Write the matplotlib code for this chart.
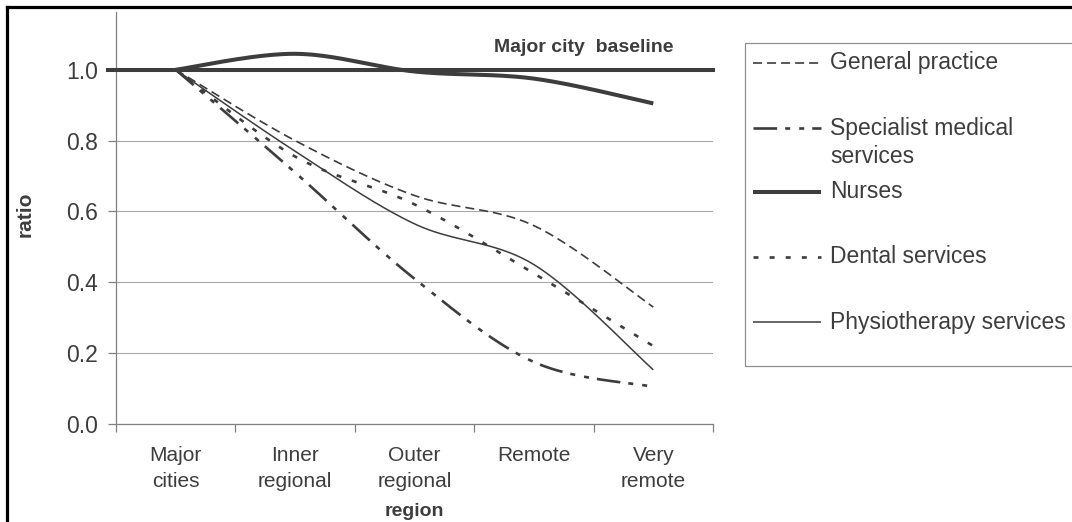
import numpy as np
import matplotlib
matplotlib.use("Agg")
import matplotlib.pyplot as plt
from matplotlib.lines import Line2D
from matplotlib.patches import Rectangle

plt.rcParams.update({"font.family": ["Liberation Sans", "DejaVu Sans"],
                     "lines.scale_dashes": False})

# ---- data ----
regions = ["Major\ncities", "Inner\nregional", "Outer\nregional", "Remote", "Very\nremote"]
general_practice = [1.0, 0.80, 0.645, 0.56, 0.33]
specialist = [1.0, 0.71, 0.41, 0.175, 0.105]
nurses = [1.0, 1.045, 0.995, 0.975, 0.905]
dental = [1.0, 0.755, 0.62, 0.425, 0.22]
physio = [1.0, 0.77, 0.565, 0.45, 0.153]
baseline = 1.0

INK = "#3d3d3d"
W, H = 1072, 522


def fx(px):
    return px / W


def fy(py):
    return 1 - py / H


def smooth(y, n=40):
    # Excel-style smoothed line: cubic Bezier through every point
    p = np.column_stack([np.arange(len(y), dtype=float), np.asarray(y, float)])
    ext = np.vstack([p[0], p, p[-1]])
    t = np.linspace(0, 1, n)[:, None]
    segs = []
    for i in range(len(p) - 1):
        p0, p3 = p[i], p[i + 1]
        c1 = p0 + (ext[i + 2] - ext[i]) / 6
        c2 = p3 - (ext[i + 3] - ext[i + 1]) / 6
        segs.append((1 - t) ** 3 * p0 + 3 * (1 - t) ** 2 * t * c1 + 3 * (1 - t) * t ** 2 * c2 + t ** 3 * p3)
    s = np.vstack(segs)
    return s[:, 0], s[:, 1]


STYLES = [
    ("General practice", general_practice, dict(lw=1.2, dashes=(6.5, 3.6))),
    ("Specialist medical\nservices", specialist, dict(lw=1.9, dashes=(17, 5.8, 3.6, 6.5, 3.6, 5.8))),
    ("Nurses", nurses, dict(lw=2.9)),
    ("Dental services", dental, dict(lw=1.9, dashes=(3.6, 8))),
    ("Physiotherapy services", physio, dict(lw=1.1)),
]

fig = plt.figure(figsize=(W / 100, H / 100), dpi=100)
ax = fig.add_axes([fx(116), fy(424), fx(713) - fx(116), fy(12) - fy(424)])

for name, vals, kw in STYLES:
    xs, ys = smooth(vals)
    ax.plot(xs, ys, color=INK, solid_capstyle="butt", dash_capstyle="butt", zorder=3, **kw)

ax.axhline(baseline, xmin=-8 / 597, xmax=1, color=INK, lw=2.9, clip_on=False, zorder=4)

ax.set_xlim(-0.5, len(regions) - 0.5)
ax.set_ylim(0, 1.163)
ax.set_yticks(np.arange(0, 1.01, 0.2))
ax.set_yticklabels([f"{v:.1f}" for v in np.arange(0, 1.01, 0.2)], fontsize=16.5, color=INK)
ax.yaxis.grid(True, color="#a8a8a8", lw=0.8)
ax.set_axisbelow(True)

ax.set_xticks(np.arange(len(regions) + 1) - 0.5)
ax.set_xticklabels([])
ax.set_xticks(np.arange(len(regions)), minor=True)
ax.set_xticklabels(regions, minor=True, fontsize=15, color=INK, linespacing=1.45)
ax.tick_params(axis="x", which="minor", length=0, pad=16)
ax.tick_params(axis="both", which="major", length=6, width=0.9, color="#808080", direction="out")
ax.tick_params(axis="y", pad=7)

for s in ("top", "right"):
    ax.spines[s].set_visible(False)
for s in ("left", "bottom"):
    ax.spines[s].set_color("#808080")
    ax.spines[s].set_linewidth(0.9)

fig.text(fx(25), fy(214), "ratio", rotation=90, ha="center", va="center",
         fontsize=15, fontweight="bold", color=INK)
fig.text(fx(414), fy(511), "region", ha="center", va="center",
         fontsize=14, fontweight="bold", color=INK)
fig.text(fx(584), fy(47), "Major city  baseline", ha="center", va="center",
         fontsize=14, fontweight="bold", color=INK)

# ---- legend box (drawn by hand to match the original layout) ----
fig.add_artist(Rectangle((fx(745), fy(366)), fx(1110) - fx(745), fy(43) - fy(366),
                         transform=fig.transFigure, fill=False, ec="#909090", lw=0.9))
rows_y = [63, 128, 192, 257, 322]
for (name, _, kw), yy in zip(STYLES, rows_y):
    fig.add_artist(Line2D([fx(753), fx(821)], [fy(yy), fy(yy)], transform=fig.transFigure,
                          color=INK, solid_capstyle="butt", dash_capstyle="butt", **kw))
    lines = name.split("\n")
    for k, ln in enumerate(lines):
        fig.text(fx(830), fy(yy + 28 * k), ln, ha="left", va="center", fontsize=16.5, color=INK)

# ---- outer frame (top and left edges visible in the scan) ----
fig.add_artist(Line2D([fx(6.5), fx(W + 5)], [fy(6.5), fy(6.5)], transform=fig.transFigure,
                      color="black", lw=2.3))
fig.add_artist(Line2D([fx(6.5), fx(6.5)], [fy(6.5), fy(H + 5)], transform=fig.transFigure,
                      color="black", lw=2.3))

fig.savefig("out.png", dpi=100)
